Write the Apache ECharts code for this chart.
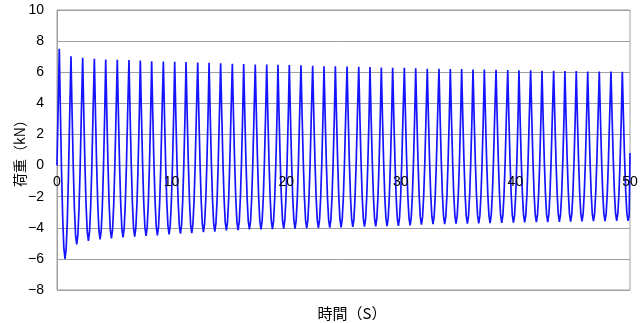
<!DOCTYPE html>
<html>
<head>
<meta charset="utf-8">
<style>
  html, body { margin: 0; padding: 0; background: #fff; }
  #chart { width: 641px; height: 323px; }
</style>
<script src="https://cdn.jsdelivr.net/npm/echarts@6/dist/echarts.min.js"></script>
</head>
<body>
<div id="chart"></div>
<script>
// Cyclic loading record: load (kN) against time (s).
// Each cycle starts at its peak; samples follow every 0.1 s of the cycle.
const startPoint = [0, 0];
const endPoint = [50, 0.8];
const samplePhase = [0, 0.1, 0.2, 0.3, 0.4, 0.5, 0.6, 0.7, 0.8, 0.9];

const peakTime = [
  0.20, 1.22, 2.24, 3.26, 4.25, 5.26, 6.28, 7.27, 8.26, 9.28,
  10.27, 11.26, 12.28, 13.27, 14.28, 15.30, 16.29, 17.30, 18.30, 19.28,
  20.27, 21.29, 22.31, 23.30, 24.29, 25.31, 26.33, 27.31, 28.30, 29.29,
  30.31, 31.30, 32.31, 33.33, 34.32, 35.31, 36.30, 37.29, 38.31, 39.33,
  40.31, 41.33, 42.32, 43.34, 44.32, 45.31, 46.31, 47.32, 48.34, 49.33
];

// peak, falling branch, trough (6th value), rising branch
const cycleLoad = [
  [7.50, 3.31, -0.47, -3.44, -5.33, -6.00, -5.35, -3.53, -0.66, 2.98],
  [7.02, 3.27, -0.11, -2.77, -4.47, -5.07, -4.47, -2.79, -0.15, 3.21],
  [6.93, 3.28, -0.01, -2.60, -4.25, -4.84, -4.25, -2.62, -0.04, 3.24],
  [6.87, 3.27, 0.01, -2.54, -4.17, -4.75, -4.17, -2.55, -0.01, 3.23],
  [6.82, 3.25, 0.03, -2.50, -4.11, -4.68, -4.11, -2.50, 0.03, 3.24],
  [6.80, 3.26, 0.06, -2.45, -4.05, -4.62, -4.05, -2.45, 0.05, 3.25],
  [6.78, 3.26, 0.08, -2.41, -4.00, -4.57, -4.00, -2.42, 0.08, 3.25],
  [6.76, 3.26, 0.10, -2.38, -3.96, -4.52, -3.96, -2.39, 0.08, 3.23],
  [6.71, 3.24, 0.10, -2.36, -3.93, -4.49, -3.93, -2.37, 0.09, 3.22],
  [6.69, 3.24, 0.13, -2.32, -3.87, -4.43, -3.87, -2.32, 0.12, 3.23],
  [6.67, 3.24, 0.15, -2.28, -3.83, -4.38, -3.83, -2.28, 0.14, 3.23],
  [6.65, 3.24, 0.17, -2.25, -3.79, -4.34, -3.79, -2.26, 0.16, 3.23],
  [6.63, 3.25, 0.19, -2.21, -3.73, -4.28, -3.74, -2.21, 0.18, 3.23],
  [6.60, 3.24, 0.20, -2.18, -3.70, -4.24, -3.70, -2.19, 0.19, 3.22],
  [6.57, 3.24, 0.23, -2.13, -3.63, -4.17, -3.63, -2.13, 0.23, 3.23],
  [6.55, 3.23, 0.24, -2.12, -3.62, -4.15, -3.62, -2.12, 0.22, 3.21],
  [6.52, 3.22, 0.25, -2.09, -3.58, -4.11, -3.58, -2.09, 0.24, 3.21],
  [6.50, 3.21, 0.25, -2.09, -3.57, -4.10, -3.57, -2.09, 0.25, 3.21],
  [6.50, 3.22, 0.26, -2.07, -3.55, -4.08, -3.55, -2.07, 0.25, 3.21],
  [6.48, 3.21, 0.26, -2.06, -3.53, -4.06, -3.53, -2.06, 0.25, 3.20],
  [6.46, 3.20, 0.26, -2.05, -3.52, -4.05, -3.53, -2.06, 0.25, 3.19],
  [6.44, 3.19, 0.26, -2.04, -3.51, -4.03, -3.51, -2.04, 0.25, 3.18],
  [6.42, 3.19, 0.27, -2.03, -3.49, -4.01, -3.49, -2.03, 0.25, 3.17],
  [6.39, 3.17, 0.27, -2.02, -3.47, -3.99, -3.47, -2.02, 0.27, 3.17],
  [6.39, 3.18, 0.28, -2.00, -3.45, -3.97, -3.45, -2.01, 0.27, 3.16],
  [6.37, 3.17, 0.28, -1.99, -3.43, -3.95, -3.44, -1.99, 0.27, 3.16],
  [6.35, 3.16, 0.28, -1.98, -3.42, -3.93, -3.42, -1.98, 0.28, 3.15],
  [6.33, 3.16, 0.29, -1.96, -3.40, -3.91, -3.40, -1.97, 0.28, 3.14],
  [6.31, 3.15, 0.29, -1.95, -3.38, -3.89, -3.38, -1.96, 0.28, 3.13],
  [6.29, 3.14, 0.30, -1.94, -3.36, -3.87, -3.36, -1.94, 0.30, 3.14],
  [6.29, 3.15, 0.31, -1.92, -3.33, -3.84, -3.34, -1.92, 0.30, 3.12],
  [6.25, 3.13, 0.32, -1.89, -3.30, -3.80, -3.30, -1.90, 0.31, 3.11],
  [6.22, 3.12, 0.33, -1.87, -3.27, -3.77, -3.27, -1.87, 0.33, 3.12],
  [6.22, 3.13, 0.33, -1.86, -3.26, -3.76, -3.26, -1.87, 0.32, 3.11],
  [6.20, 3.12, 0.34, -1.85, -3.24, -3.74, -3.24, -1.85, 0.34, 3.12],
  [6.20, 3.12, 0.34, -1.84, -3.23, -3.73, -3.23, -1.85, 0.33, 3.11],
  [6.18, 3.11, 0.34, -1.83, -3.22, -3.71, -3.22, -1.83, 0.34, 3.11],
  [6.18, 3.12, 0.35, -1.82, -3.21, -3.70, -3.21, -1.83, 0.34, 3.10],
  [6.16, 3.11, 0.35, -1.81, -3.19, -3.68, -3.19, -1.81, 0.35, 3.10],
  [6.14, 3.10, 0.35, -1.81, -3.18, -3.67, -3.18, -1.81, 0.34, 3.09],
  [6.12, 3.09, 0.35, -1.80, -3.17, -3.66, -3.17, -1.80, 0.35, 3.09],
  [6.12, 3.09, 0.36, -1.79, -3.15, -3.64, -3.15, -1.79, 0.35, 3.08],
  [6.10, 3.08, 0.36, -1.78, -3.14, -3.63, -3.14, -1.78, 0.36, 3.08],
  [6.10, 3.09, 0.37, -1.77, -3.13, -3.62, -3.13, -1.78, 0.36, 3.07],
  [6.08, 3.08, 0.36, -1.77, -3.13, -3.61, -3.13, -1.77, 0.36, 3.08],
  [6.08, 3.08, 0.37, -1.75, -3.11, -3.59, -3.11, -1.76, 0.36, 3.06],
  [6.05, 3.06, 0.37, -1.75, -3.10, -3.58, -3.10, -1.75, 0.37, 3.06],
  [6.05, 3.07, 0.37, -1.74, -3.09, -3.57, -3.09, -1.74, 0.37, 3.07],
  [6.05, 3.07, 0.38, -1.73, -3.08, -3.56, -3.08, -1.74, 0.37, 3.06],
  [6.03, 3.06, 0.38, -1.73, -3.07, -3.55, -3.20]
];

const timeAxis = { min: 0, max: 50, step: 10 };
const loadAxis = { min: -8, max: 10, step: 2 };
const xTitle = '時間（S）';
const yTitle = '荷重（kN）';

const points = [startPoint];
cycleLoad.forEach((row, k) => {
  row.forEach((v, j) => points.push([peakTime[k] + samplePhase[j], v]));
});
points.push(endPoint);

const numFont = 'Liberation Sans, Arial, sans-serif';
const jpFont = 'Noto Sans CJK JP, sans-serif';
const gridColor = '#a0a0a0';

// plot box
const box = { left: 57, right: 11, top: 10, bottom: 33 };
const plotHeight = 323 - box.top - box.bottom;
// time labels sit on the zero-load line
const zeroLift = plotHeight * (0 - loadAxis.min) / (loadAxis.max - loadAxis.min);

const chart = echarts.init(document.getElementById('chart'), null, { renderer: 'canvas' });
chart.setOption({
  animation: false,
  backgroundColor: '#fff',
  grid: Object.assign({
    containLabel: false,
    outerBoundsMode: 'none',
    show: true, borderColor: gridColor, borderWidth: 1, backgroundColor: 'transparent'
  }, box),
  xAxis: {
    type: 'value',
    position: 'bottom',
    offset: -zeroLift,
    min: timeAxis.min, max: timeAxis.max, interval: timeAxis.step,
    z: 5,
    axisLine: { show: false, onZero: false },
    axisTick: { show: false },
    splitLine: { show: false },
    axisLabel: { margin: 10, fontSize: 14, color: '#000', fontFamily: numFont }
  },
  yAxis: {
    type: 'value',
    min: loadAxis.min, max: loadAxis.max, interval: loadAxis.step,
    name: yTitle,
    nameLocation: 'middle',
    nameGap: 30,
    nameMoveOverlap: false,
    nameTextStyle: { fontFamily: jpFont, fontSize: 14, color: '#000' },
    axisLine: { show: true, onZero: false, lineStyle: { color: gridColor, width: 1 } },
    axisTick: { show: false },
    splitLine: { show: true, lineStyle: { color: gridColor, width: 1 } },
    axisLabel: {
      margin: 13, fontSize: 14, color: '#000', fontFamily: numFont,
      formatter: v => (v < 0 ? '\u2212' + Math.abs(v) : String(v))
    }
  },
  graphic: [{
    type: 'text',
    x: 352, y: 313,
    style: {
      text: xTitle, fill: '#000',
      font: '15px ' + jpFont,
      textAlign: 'center', textVerticalAlign: 'middle'
    }
  }],
  series: [{
    type: 'line',
    data: points,
    showSymbol: false,
    symbol: 'none',
    clip: true,
    lineStyle: { color: '#1414ff', width: 1.7 },
    z: 2
  }]
});
</script>
</body>
</html>
